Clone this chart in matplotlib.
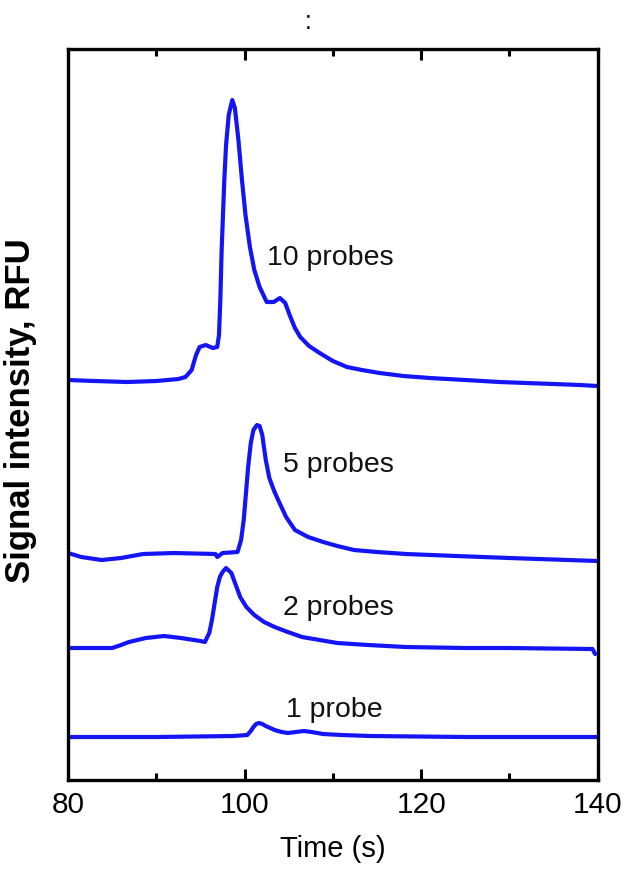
import matplotlib
matplotlib.use("Agg")
import matplotlib.pyplot as plt
from matplotlib.ticker import MultipleLocator

plt.rcParams['font.family'] = ['Liberation Sans', 'DejaVu Sans']

# electropherogram traces, time (s) vs signal (RFU, arbitrary scale)
t_10 = [80.0, 83.0, 86.7, 90.0, 92.5, 93.3, 94.0, 94.5, 94.9, 95.6, 96.4, 96.9, 97.1, 97.25, 97.4,
        97.7, 97.9, 98.2, 98.6, 98.9, 99.3, 99.7, 100.1, 100.6, 101.1, 101.7, 102.5, 103.3, 104.0,
        104.6, 105.1, 105.7, 106.3, 107.3, 108.5, 110.0, 111.6, 113.3, 115.3, 118.0, 121.0,
        125.0, 128.9, 135.0, 138.0, 140.0]
s_10 = [400, 399, 398, 399, 401, 403, 410, 425, 433, 435, 432, 433, 445, 480, 530,
        600, 635, 665, 680, 672, 640, 600, 565, 533, 510, 493, 478, 478, 482,
        477, 465, 452, 443, 434, 427, 419, 413, 410, 407, 404, 402,
        400, 398, 396, 395, 394]

t_5 = [80.0, 81.5, 83.8, 86.0, 88.5, 92.0, 96.7, 96.9, 97.5, 99.2, 99.6, 99.9, 100.4,
       100.7, 101.0, 101.4, 101.7, 102.0, 102.4, 102.8, 103.3, 103.8, 104.7, 105.7, 107.2,
       108.9, 110.5, 112.4, 115.0, 118.3, 124.0, 130.0, 140.0]
s_5 = [227, 223, 220, 222, 226, 227, 226, 223, 227, 228, 240, 260, 313,
       337, 350, 355, 354, 345, 320, 302, 290, 280, 263, 250, 243,
       238, 234, 230, 228, 226, 224, 222, 219]

t_2 = [80.0, 85.0, 86.0, 86.9, 88.8, 90.9, 92.8, 95.0, 95.5, 96.0, 96.3, 96.9, 97.2, 97.5,
       97.9, 98.5, 99.0, 99.5, 100.2, 101.1, 102.2, 103.4, 104.9, 106.5, 108.5, 110.5,
       114.0, 118.3, 125.0, 130.0, 139.4, 139.7]
s_2 = [132, 132, 135, 138, 142, 144, 142, 139, 138, 147, 160, 193, 203, 208,
       212, 207, 195, 183, 173, 165, 158, 153, 148, 143, 140, 137,
       135, 133, 132, 132, 131, 126]

t_1 = [80.0, 90.0, 98.7, 100.3, 100.7, 101.0, 101.3, 101.6, 102.0, 102.4, 103.4, 104.2,
       104.9, 105.8, 106.7, 107.6, 108.9, 111.0, 114.3, 125.0, 140.0]
s_1 = [43, 43, 44, 45, 49, 53, 56, 57, 56, 54, 50, 48,
       47, 48, 49, 48, 46, 45, 44, 43, 43]

labels = ['10 probes', '5 probes', '2 probes', '1 probe']
label_pos = [(102.5, 522), (104.4, 315), (104.4, 172), (104.7, 70)]

fig = plt.figure(figsize=(6.24, 8.69), dpi=100)
ax = fig.add_axes([0.109, 0.1024, 0.849, 0.8412])

blue = '#1414f5'
for t, s in [(t_10, s_10), (t_5, s_5), (t_2, s_2), (t_1, s_1)]:
    ax.plot(t, s, color=blue, lw=3.0, solid_joinstyle='round', solid_capstyle='round')

for name, (x, y) in zip(labels, label_pos):
    ax.text(x, y, name, fontsize=20.5, ha='left', va='center', color='#111111')

ax.set_xlim(80, 140)
ax.set_ylim(0, 731)
ax.xaxis.set_major_locator(MultipleLocator(20))
ax.xaxis.set_minor_locator(MultipleLocator(10))
ax.set_yticks([])
ax.tick_params(axis='x', which='both', direction='in', top=True, bottom=True,
               width=2.2, labelsize=21.5, pad=8)
ax.tick_params(axis='x', which='major', length=8)
ax.tick_params(axis='x', which='minor', length=5)
for sp in ax.spines.values():
    sp.set_linewidth(2.4)

ax.set_xlabel('Time (s)', fontsize=21)
ax.set_ylabel('Signal intensity, RFU', fontsize=25, fontweight='bold')
ax.xaxis.set_label_coords(0.5, -0.075)
ax.yaxis.set_label_coords(-0.058, 0.505)

fig.text(308 / 624, 1 - 22 / 869, ':', fontsize=18, ha='center', va='center')

fig.savefig('out.png', dpi=100)
